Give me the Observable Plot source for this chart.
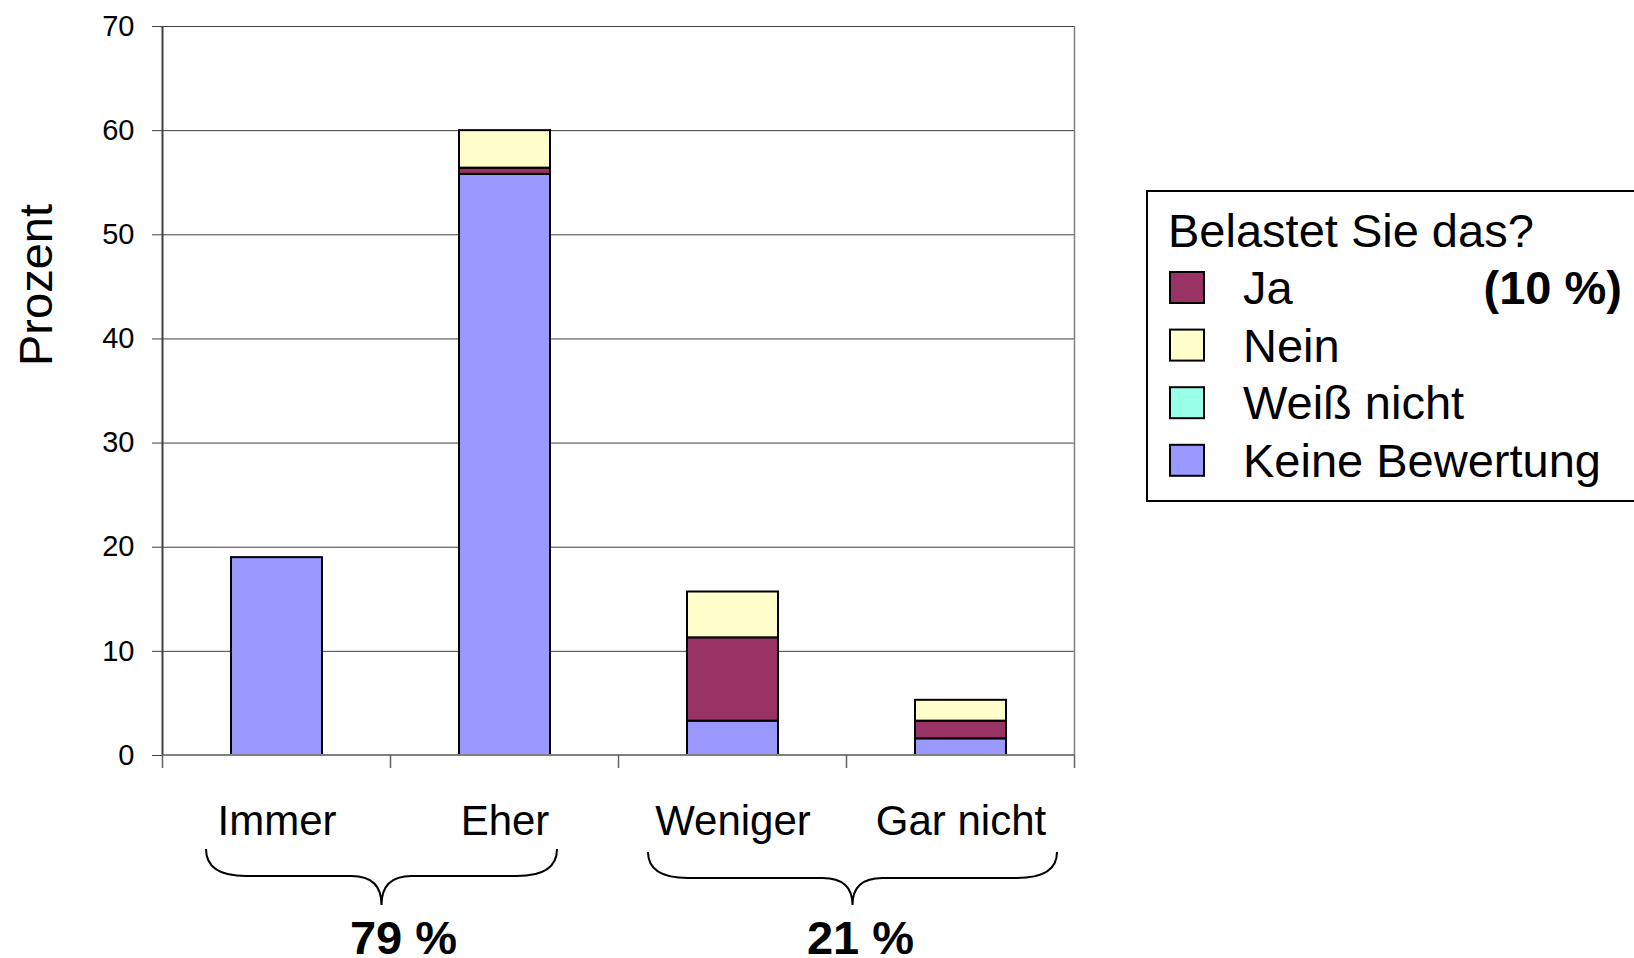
<!DOCTYPE html>
<html><head><meta charset="utf-8">
<script src="https://cdn.jsdelivr.net/npm/d3@7"></script>
<script src="https://cdn.jsdelivr.net/npm/@observablehq/plot@0.6"></script>
<style>html,body{margin:0;padding:0;background:#fff;overflow:hidden}</style>
</head><body><div id="chart"></div>
<script>
// ---- data ----
const categories = ["Immer", "Eher", "Weniger", "Gar nicht"];
const stackOrder = ["Keine Bewertung", "Ja", "Weiß nicht", "Nein"]; // bottom -> top
const keineBewertung = [19.0, 55.8, 3.3, 1.6];
const ja = [0, 0.6, 8.0, 1.7];
const weissNicht = [0, 0, 0, 0];
const nein = [0, 3.6, 4.4, 2.0];
const seriesColors = ["#9999FF", "#993366", "#99FFE6", "#FFFFCC"];
const legendOrder = ["Ja", "Nein", "Weiß nicht", "Keine Bewertung"];
const legendTitle = "Belastet Sie das?";
const legendNote = "(10 %)";
const yTicks = [0, 10, 20, 30, 40, 50, 60, 70];
const yLabel = "Prozent";
const groups = [["Immer", "Eher"], ["Weniger", "Gar nicht"]];
const groupLabels = ["79 %", "21 %"];

// ---- table ----
const seriesValues = [keineBewertung, ja, weissNicht, nein];
const table = [];
stackOrder.forEach((s, si) => categories.forEach((c, ci) => {
  if (seriesValues[si][ci] > 0) table.push({cat: c, series: s, value: seriesValues[si][ci]});
}));

const FONT = "'Liberation Sans', Arial, Helvetica, sans-serif";

const plot = Plot.plot({
  width: 1634, height: 958,
  marginLeft: 162, marginRight: 559, marginTop: 26, marginBottom: 203,
  style: {fontFamily: FONT, fontSize: "28px", background: "white", color: "black"},
  x: {domain: categories, paddingInner: 0.6, paddingOuter: 0.3, label: null},
  y: {domain: [0, 70], label: null},
  color: {domain: stackOrder, range: seriesColors},
  marks: [
    Plot.gridY({ticks: yTicks, stroke: "#404040", strokeOpacity: 1, strokeWidth: 1}),
    Plot.barY(table, {x: "cat", y: "value", fill: "series", stroke: "black", strokeWidth: 2, inset: 0}),
    Plot.axisY({ticks: yTicks, tickSize: 10, tickPadding: 18, fontSize: 29, stroke: "#404040", label: null}),
    Plot.axisX({tickSize: 0, tickPadding: 50, fontSize: 42, label: null})
  ]
});
document.getElementById("chart").appendChild(plot);

// ---- extra decorations drawn from the scales ----
const svg = d3.select(plot);
const xs = plot.scale("x"), ys = plot.scale("y");
const step = xs.step, bw = xs.bandwidth;
const gap = (step - bw) / 2;
const y0 = ys.apply(0), yTop = ys.apply(70);
const xLeft = xs.apply(categories[0]) - gap;
const xRight = xs.apply(categories[categories.length - 1]) + bw + gap;

// axes lines and border
svg.append("line").attr("x1", xLeft).attr("x2", xLeft).attr("y1", yTop).attr("y2", y0)
  .attr("stroke", "#404040").attr("stroke-width", 2);
svg.append("line").attr("x1", xRight).attr("x2", xRight).attr("y1", yTop).attr("y2", y0)
  .attr("stroke", "#808080").attr("stroke-width", 1.5);
svg.append("line").attr("x1", xLeft).attr("x2", xRight).attr("y1", y0).attr("y2", y0)
  .attr("stroke", "#808080").attr("stroke-width", 2);
// boundary ticks
for (let i = 0; i <= categories.length; i++) {
  const bx = xLeft + i * step;
  svg.append("line").attr("x1", bx).attr("x2", bx).attr("y1", y0).attr("y2", y0 + 13)
    .attr("stroke", "#606060").attr("stroke-width", 1.5);
}

// y label
svg.append("text").attr("transform", `translate(52,285) rotate(-90)`)
  .attr("text-anchor", "middle").attr("font-size", 47).attr("font-family", FONT)
  .attr("fill", "black").text(yLabel);

// braces
const braceInsets = [[-25, 7], [-39, 51]];
const braceTop = [849, 852], braceMid = [876, 878], braceTip = 905;
const labelDx = [22, 8];
groups.forEach((g, gi) => {
  const x0 = xs.apply(g[0]) + braceInsets[gi][0];
  const x1 = xs.apply(g[1]) + bw + braceInsets[gi][1];
  const xc = (x0 + x1) / 2;
  const yt = braceTop[gi], yh = braceMid[gi];
  const r1 = 40, r2 = 30;
  const d = `M${x0},${yt} Q${x0},${yh} ${x0 + r1},${yh} L${xc - r2},${yh} Q${xc},${yh} ${xc},${braceTip} ` +
            `Q${xc},${yh} ${xc + r2},${yh} L${x1 - r1},${yh} Q${x1},${yh} ${x1},${yt}`;
  svg.append("path").attr("d", d).attr("fill", "none").attr("stroke", "black").attr("stroke-width", 2);
  svg.append("text").attr("x", xc + labelDx[gi]).attr("y", 954).attr("text-anchor", "middle")
    .attr("font-size", 47).attr("font-weight", "bold").attr("font-family", FONT)
    .attr("fill", "black").text(groupLabels[gi]);
});

// legend
const lg = svg.append("g").attr("font-family", FONT).attr("font-size", 47)
  .attr("fill", "black").attr("text-anchor", "start");
lg.append("rect").attr("x", 1147).attr("y", 191).attr("width", 520).attr("height", 310)
  .attr("fill", "white").attr("stroke", "black").attr("stroke-width", 2);
lg.append("text").attr("x", 1168).attr("y", 247).attr("text-anchor", "start").text(legendTitle);
legendOrder.forEach((name, i) => {
  const top = 272 + i * 57.6;
  lg.append("rect").attr("x", 1170).attr("y", top).attr("width", 34).attr("height", 31)
    .attr("fill", seriesColors[stackOrder.indexOf(name)]).attr("stroke", "black").attr("stroke-width", 2);
  lg.append("text").attr("x", 1243).attr("y", top + 32).attr("text-anchor", "start").text(name);
});
lg.append("text").attr("x", 1622).attr("y", 304).attr("text-anchor", "end")
  .attr("font-weight", "bold").text(legendNote);
</script>
</body></html>
